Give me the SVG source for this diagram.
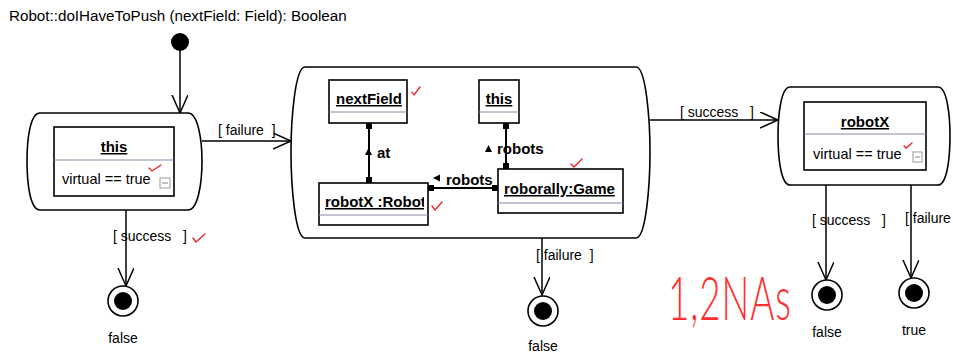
<svg xmlns="http://www.w3.org/2000/svg" width="953" height="353" viewBox="0 0 953 353">
<defs>
<style>
text{font-family:"Liberation Sans",Arial,sans-serif;fill:#000}
.title{font-size:15.2px}
.lbl{font-size:14px}
.name{font-size:15px;font-weight:bold;text-decoration:underline}
.attr{font-size:14.5px}
.role{font-size:15px;font-weight:bold}
.state{fill:#fff;stroke:#000;stroke-width:1.6}
.obj{fill:#fff;stroke:#000;stroke-width:1.6}
.div{stroke:#8888aa;stroke-width:1.2}
.edge{fill:none;stroke:#000;stroke-width:1.5}
.link{fill:none;stroke:#000;stroke-width:2}
.check{fill:none;stroke:#e82020;stroke-width:1.3;stroke-linecap:round}
.minus{fill:#fff;stroke:#aaa;stroke-width:1.2}
</style>
<marker id="open" markerUnits="userSpaceOnUse" markerWidth="20" markerHeight="18" refX="18" refY="8" orient="auto">
<path d="M0,0 L18,8 L0,16" fill="none" stroke="#000" stroke-width="1.5"/>
</marker>
</defs>
<rect width="953" height="353" fill="#fff"/>
<text class="title" x="9" y="21">Robot::doIHaveToPush (nextField: Field): Boolean</text>

<!-- control flow -->
<g id="connectors">
<path class="edge" d="M180,42 V113" marker-end="url(#open)"/>
<path class="edge" d="M202,141 H291" marker-end="url(#open)"/>
<text class="lbl" x="218" y="135" xml:space="preserve">[ failure  ]</text>
<path class="edge" d="M126,210 V286" marker-end="url(#open)"/>
<text class="lbl" x="113" y="241" xml:space="preserve">[ success   ]</text>
<path class="check" d="M193,238 L196,242 L205,234"/>
<path class="edge" d="M650,120 H778" marker-end="url(#open)"/>
<text class="lbl" x="680" y="117" xml:space="preserve">[ success   ]</text>
<path class="edge" d="M542,238 V295" marker-end="url(#open)"/>
<text class="lbl" x="536" y="260" xml:space="preserve">[ failure  ]</text>
<path class="edge" d="M826,185 V280" marker-end="url(#open)"/>
<text class="lbl" x="812" y="225" xml:space="preserve">[ success   ]</text>
<path class="edge" d="M911,185 V278" marker-end="url(#open)"/>
<text class="lbl" x="905" y="223" xml:space="preserve">[ failure</text>
</g>

<g id="start"><circle cx="180" cy="42" r="9" fill="#000"/></g>

<g id="checkThis">
<path class="state" d="M40,113 L188,113 C198,113 202,140 202,161 C202,183 198,210 188,210 L40,210 C30,210 27,183 27,161 C27,140 30,113 40,113 Z"/>
<rect class="obj" x="54" y="127" width="120" height="69"/>
<line class="div" x1="54" y1="160" x2="174" y2="160"/>
<text class="name" x="114" y="152" text-anchor="middle">this</text>
<text class="attr" x="62" y="184">virtual == true</text>
<rect class="minus" x="160" y="178" width="10" height="10"/>
<line x1="162" y1="183" x2="168" y2="183" stroke="#888" stroke-width="1"/>
<path class="check" d="M149,168 L152,171 L161,165"/>
</g>

<g id="findRobot">
<path class="state" d="M305,67 L636,67 C646,67 650,120 650,152 C650,185 646,238 636,238 L305,238 C295,238 291,185 291,152 C291,120 295,67 305,67 Z"/>
<g id="nextField">
<rect class="obj" x="329" y="80" width="78" height="43"/>
<line class="div" x1="329" y1="112" x2="407" y2="112"/>
<text class="name" x="369" y="104" text-anchor="middle">nextField</text>
<path class="check" d="M412,92 L414,95 L420,87"/>
</g>
<g id="thisObj">
<rect class="obj" x="479" y="80" width="40" height="43"/>
<line class="div" x1="479" y1="112" x2="519" y2="112"/>
<text class="name" x="499" y="104" text-anchor="middle">this</text>
</g>
<g id="robotX">
<rect class="obj" x="319" y="183" width="109" height="42"/>
<line class="div" x1="319" y1="215" x2="428" y2="215"/>
<text class="name" x="325" y="207">robotX :Robot</text>
<rect x="424" y="190" width="3" height="22" fill="#fff"/>
<path class="check" d="M432,206 L435,210 L442,202"/>
</g>
<g id="roborally">
<rect class="obj" x="498" y="169" width="125" height="44"/>
<line class="div" x1="498" y1="203" x2="623" y2="203"/>
<text class="name" x="504" y="194">roborally:Game</text>
<path class="check" d="M571,164 L574,167 L582,159"/>
</g>
<g id="links">
<path class="link" d="M369,123 V183"/>
<rect x="366" y="123" width="6" height="6" fill="#000"/>
<rect x="366" y="177" width="6" height="6" fill="#000"/>
<path d="M365,155 L368.5,148 L372,155 Z" fill="#000"/>
<text class="role" x="377" y="158">at</text>
<path class="link" d="M506,123 V169"/>
<rect x="503" y="123" width="6" height="6" fill="#000"/>
<rect x="503" y="163" width="6" height="6" fill="#000"/>
<path d="M485,152 L488.5,145 L492,152 Z" fill="#000"/>
<text class="role" x="497" y="154">robots</text>
<path class="link" d="M428,188 H498"/>
<rect x="428" y="185" width="6" height="6" fill="#000"/>
<rect x="492" y="185" width="6" height="6" fill="#000"/>
<path d="M433,178 L440,174.5 L440,181.5 Z" fill="#000"/>
<text class="role" x="446" y="185">robots</text>
</g>
</g>

<g id="checkRobotX">
<path class="state" d="M790,87 L938,87 C947,87 950,115 950,136 C950,158 947,185 938,185 L790,185 C781,185 778,158 778,136 C778,115 781,87 790,87 Z"/>
<rect class="obj" x="804" y="102" width="122" height="68"/>
<line class="div" x1="804" y1="134" x2="926" y2="134"/>
<text class="name" x="865" y="127" text-anchor="middle">robotX</text>
<text class="attr" x="813" y="159">virtual == true</text>
<rect class="minus" x="913" y="152" width="9" height="10"/>
<line x1="915" y1="157" x2="920" y2="157" stroke="#888" stroke-width="1"/>
<path class="check" d="M904,146 L906,148 L912,143"/>
</g>

<g id="endFalse1">
<circle cx="123" cy="301" r="15" fill="#fff" stroke="#000" stroke-width="1.6"/>
<circle cx="123" cy="301" r="9" fill="#000"/>
<text class="lbl" x="123" y="343" text-anchor="middle">false</text>
</g>
<g id="endFalse2">
<circle cx="543" cy="311" r="15" fill="#fff" stroke="#000" stroke-width="1.6"/>
<circle cx="543" cy="311" r="9" fill="#000"/>
<text class="lbl" x="543" y="351" text-anchor="middle">false</text>
</g>
<g id="endFalse3">
<circle cx="827" cy="295" r="15" fill="#fff" stroke="#000" stroke-width="1.6"/>
<circle cx="827" cy="295" r="9" fill="#000"/>
<text class="lbl" x="827" y="337" text-anchor="middle">false</text>
</g>
<g id="endTrue">
<circle cx="914" cy="293" r="15" fill="#fff" stroke="#000" stroke-width="1.6"/>
<circle cx="914" cy="293" r="9" fill="#000"/>
<text class="lbl" x="914" y="335" text-anchor="middle">true</text>
</g>

<text x="0" y="0" transform="translate(668,320) scale(0.92,1.55)" style="font-family:Lato,'DejaVu Sans',sans-serif;font-weight:300;font-size:40px;letter-spacing:1px;fill:#ff3030">1,2NAs</text>
</svg>
